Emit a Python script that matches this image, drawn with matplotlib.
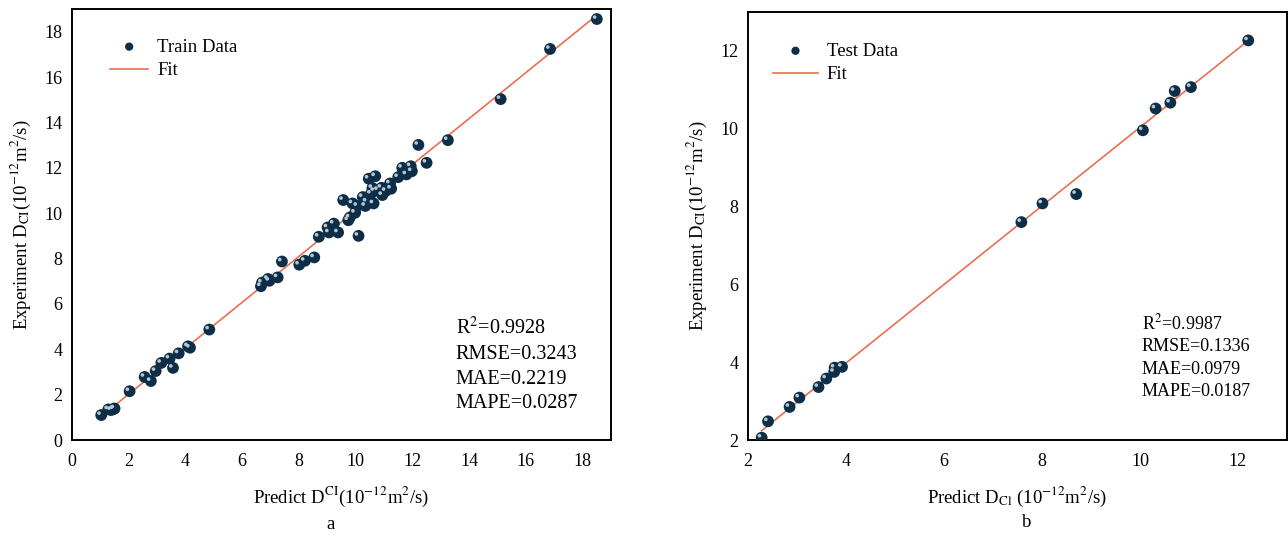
import numpy as np
import matplotlib
matplotlib.use("Agg")
import matplotlib.pyplot as plt
import matplotlib.transforms as mtransforms

plt.rcParams['font.family'] = ['Liberation Serif', 'DejaVu Serif']
plt.rcParams['mathtext.fontset'] = 'stix'

# training set: predicted vs experimental chloride diffusion coefficient
train_pred = [1.03, 1.28, 1.38, 1.46, 1.50, 2.03, 2.56, 2.78, 2.95, 3.15,
              3.44, 3.56, 3.76, 4.09, 4.16, 4.84, 6.66, 6.70, 6.91, 6.96,
              7.25, 7.40, 8.01, 8.21, 8.54, 8.70, 9.01, 9.06, 9.23, 9.38,
              9.56, 9.74, 9.79, 9.89, 9.98, 10.06, 10.10, 10.25, 10.34, 10.39,
              10.46, 10.54, 10.59, 10.63, 10.69, 10.66, 10.79, 10.91, 10.94, 11.06,
              11.21, 11.25, 11.50, 11.64, 11.79, 11.94, 11.98, 12.21, 12.50, 13.25,
              15.11, 16.85, 18.50]
train_exp = [1.10, 1.35, 1.32, 1.36, 1.39, 2.15, 2.78, 2.60, 3.04, 3.40,
             3.59, 3.18, 3.82, 4.13, 4.07, 4.87, 6.78, 6.94, 7.10, 7.02,
             7.17, 7.87, 7.73, 7.90, 8.05, 8.96, 9.37, 9.15, 9.54, 9.15,
             10.58, 9.69, 9.81, 10.43, 10.02, 10.32, 9.00, 10.71, 10.32, 10.51,
             11.52, 10.86, 11.11, 10.43, 11.63, 10.98, 11.02, 11.12, 10.80, 10.98,
             11.31, 11.08, 11.59, 12.00, 11.71, 12.07, 11.85, 13.01, 12.22, 13.22,
             15.03, 17.24, 18.56]

# test set
test_pred = [2.28, 2.41, 2.85, 3.05, 3.44, 3.60, 3.76, 3.77, 3.92,
             7.58, 8.01, 8.70, 10.06, 10.32, 10.62, 10.71, 11.04, 12.21]
test_exp = [2.06, 2.48, 2.85, 3.09, 3.36, 3.58, 3.75, 3.86, 3.88,
            7.60, 8.08, 8.32, 9.96, 10.52, 10.67, 10.97, 11.07, 12.27]

train_stats = ['R$^2$=0.9928', 'RMSE=0.3243', 'MAE=0.2219', 'MAPE=0.0287']
test_stats = ['R$^2$=0.9987', 'RMSE=0.1336', 'MAE=0.0979', 'MAPE=0.0187']

dot_color = '#0e2d47'
shine_color = '#b4c7d4'
fit_color = '#e8704f'

fig = plt.figure(figsize=(12.88, 5.36), dpi=100)
ax1 = fig.add_axes([0.0559, 0.1791, 0.4185, 0.804])
ax2 = fig.add_axes([0.5807, 0.1791, 0.4185, 0.7985])


def draw_panel(ax, xs, ys, label, stats, lim, ticks, stat_size, stat_pos,
               legend_anchor, handle_len):
    xs = np.array(xs)
    ys = np.array(ys)
    k, b = np.polyfit(xs, ys, 1)
    xx = np.array([xs.min(), xs.max()])
    ax.scatter(xs, ys, s=72, color=dot_color, zorder=3, label=label,
               edgecolors='none')
    shine = mtransforms.ScaledTranslation(-1.6 / 72, 1.4 / 72, fig.dpi_scale_trans)
    ax.scatter(xs, ys, s=7, color=shine_color, zorder=4, edgecolors='none',
               transform=ax.transData + shine)
    ax.plot(xx, k * xx + b, color=fit_color, lw=1.2, zorder=2, label='Fit')
    ax.set_xlim(lim)
    ax.set_ylim(lim)
    ax.set_xticks(ticks)
    ax.set_yticks(ticks)
    ax.tick_params(length=0, labelsize=13)
    ax.tick_params(axis='x', pad=9)
    ax.tick_params(axis='y', pad=7)
    for s in ax.spines.values():
        s.set_linewidth(1.4)
        s.set_color('black')
    ax.legend(loc='upper left', bbox_to_anchor=legend_anchor, frameon=False,
              fontsize=13.5, markerscale=0.7, handlelength=handle_len,
              handletextpad=0.5, labelspacing=0.35)
    ax.text(stat_pos[0], stat_pos[1], '\n'.join(stats), transform=ax.transAxes,
            fontsize=stat_size, ha='left', va='bottom', linespacing=1.4)


draw_panel(ax1, train_pred, train_exp, 'Train Data', train_stats,
           (0, 19), range(0, 19, 2), 14.5, (0.712, 0.062),
           (0.04, 0.971), 2.0)
draw_panel(ax2, test_pred, test_exp, 'Test Data', test_stats,
           (2, 13), range(2, 13, 2), 13, (0.731, 0.094),
           (0.016, 0.968), 2.35)

ax1.set_xlabel('Predict D$^{\\mathrm{CI}}$(10$^{-12}$m$^2$/s)', fontsize=13.5, labelpad=11)
ax1.set_ylabel('Experiment D$_{\\mathrm{CI}}$(10$^{-12}$m$^2$/s)', fontsize=13.5, labelpad=8)
ax2.set_xlabel('Predict D$_{\\mathrm{Cl}}$ (10$^{-12}$m$^2$/s)', fontsize=13.5, labelpad=11)
ax2.set_ylabel('Experiment D$_{\\mathrm{CI}}$(10$^{-12}$m$^2$/s)', fontsize=13.5, labelpad=8)

fig.text(0.257, 0.021, 'a', fontsize=13.5, ha='center', va='center')
fig.text(0.797, 0.025, 'b', fontsize=13.5, ha='center', va='center')

fig.savefig('out.png', dpi=100)
